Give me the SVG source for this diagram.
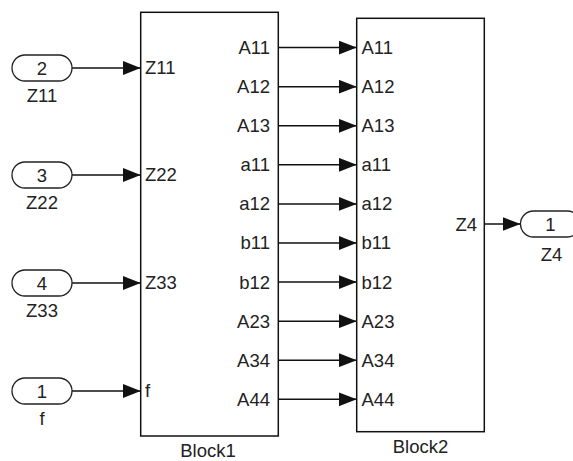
<svg xmlns="http://www.w3.org/2000/svg" width="573" height="461" viewBox="0 0 573 461">
<defs>
<style>
text{font-family:"Liberation Sans",Arial,sans-serif;font-size:18.5px;fill:#222}
.blk{fill:#fff;stroke:#111;stroke-width:1.5}
.port{fill:#fff;stroke:#222;stroke-width:1.3}
.wire{stroke:#111;stroke-width:1.5;fill:none;marker-end:url(#ah)}
.mid{text-anchor:middle}
.end{text-anchor:end}
</style>
<marker id="ah" markerUnits="userSpaceOnUse" viewBox="0 0 18 14" refX="18" refY="7" markerWidth="18" markerHeight="14" orient="auto">
<path d="M0,0 L18,7 L0,14 Z" fill="#111"/>
</marker>
</defs>
<rect width="573" height="461" fill="#fff"/>

<g id="connectors">
<line class="wire" x1="72" y1="68" x2="140.7" y2="68"/>
<line class="wire" x1="72" y1="175" x2="140.7" y2="175"/>
<line class="wire" x1="72" y1="283" x2="140.7" y2="283"/>
<line class="wire" x1="72" y1="391" x2="140.7" y2="391"/>
<line class="wire" x1="278.3" y1="47.6" x2="356.7" y2="47.6"/>
<line class="wire" x1="278.3" y1="86.7" x2="356.7" y2="86.7"/>
<line class="wire" x1="278.3" y1="125.8" x2="356.7" y2="125.8"/>
<line class="wire" x1="278.3" y1="164.8" x2="356.7" y2="164.8"/>
<line class="wire" x1="278.3" y1="203.9" x2="356.7" y2="203.9"/>
<line class="wire" x1="278.3" y1="243" x2="356.7" y2="243"/>
<line class="wire" x1="278.3" y1="282.1" x2="356.7" y2="282.1"/>
<line class="wire" x1="278.3" y1="321.2" x2="356.7" y2="321.2"/>
<line class="wire" x1="278.3" y1="360.2" x2="356.7" y2="360.2"/>
<line class="wire" x1="278.3" y1="399.3" x2="356.7" y2="399.3"/>
<line class="wire" x1="484.3" y1="224" x2="520.5" y2="224"/>
</g>

<g id="in_Z11">
<rect class="port" x="12" y="55" width="60" height="26" rx="13"/>
<text class="mid" x="42" y="74.5">2</text>
<text class="mid" x="42" y="102">Z11</text>
</g>
<g id="in_Z22">
<rect class="port" x="12" y="162" width="60" height="26" rx="13"/>
<text class="mid" x="42" y="181.5">3</text>
<text class="mid" x="42" y="209">Z22</text>
</g>
<g id="in_Z33">
<rect class="port" x="12" y="270" width="60" height="26" rx="13"/>
<text class="mid" x="42" y="289.5">4</text>
<text class="mid" x="42" y="317">Z33</text>
</g>
<g id="in_f">
<rect class="port" x="12" y="378" width="60" height="26" rx="13"/>
<text class="mid" x="42" y="397.5">1</text>
<text class="mid" x="42" y="425">f</text>
</g>

<g id="Block1">
<rect class="blk" x="140.7" y="12.3" width="137.6" height="423.7"/>
<text x="145" y="74">Z11</text>
<text x="145" y="181">Z22</text>
<text x="145" y="289">Z33</text>
<text x="145" y="397">f</text>
<text class="end" x="270" y="54">A11</text>
<text class="end" x="270" y="93.1">A12</text>
<text class="end" x="270" y="132.2">A13</text>
<text class="end" x="270" y="171.2">a11</text>
<text class="end" x="270" y="210.3">a12</text>
<text class="end" x="270" y="249.4">b11</text>
<text class="end" x="270" y="288.5">b12</text>
<text class="end" x="270" y="327.6">A23</text>
<text class="end" x="270" y="366.6">A34</text>
<text class="end" x="270" y="405.7">A44</text>
<text class="mid" x="208" y="456.5">Block1</text>
</g>

<g id="Block2">
<rect class="blk" x="356.7" y="18.3" width="127.6" height="413.4"/>
<text x="361.5" y="54">A11</text>
<text x="361.5" y="93.1">A12</text>
<text x="361.5" y="132.2">A13</text>
<text x="361.5" y="171.2">a11</text>
<text x="361.5" y="210.3">a12</text>
<text x="361.5" y="249.4">b11</text>
<text x="361.5" y="288.5">b12</text>
<text x="361.5" y="327.6">A23</text>
<text x="361.5" y="366.6">A34</text>
<text x="361.5" y="405.7">A44</text>
<text class="end" x="477" y="230.5">Z4</text>
<text class="mid" x="420.5" y="452.5">Block2</text>
</g>

<g id="out_Z4">
<rect class="port" x="520.5" y="211" width="60" height="26" rx="13"/>
<text class="mid" x="550.5" y="230.5">1</text>
<text class="mid" x="551.5" y="260.5">Z4</text>
</g>
</svg>
